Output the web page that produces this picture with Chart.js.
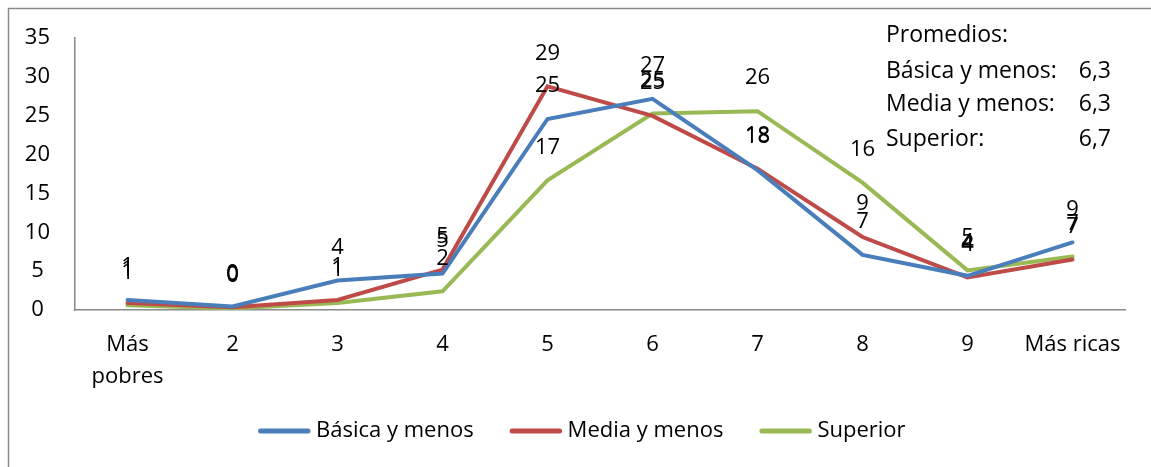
<!DOCTYPE html>
<html><head><meta charset="utf-8">
<script src="https://cdn.jsdelivr.net/npm/chart.js@4.4.1/dist/chart.umd.min.js"></script>
<style>html,body{margin:0;padding:0;background:#fff;overflow:hidden}#wrap{width:1151px;height:467px;position:relative}</style>
</head><body><div id="wrap"><canvas id="c" width="1151" height="467"></canvas></div>
<script>
const categories = [["Más","pobres"],"2","3","4","5","6","7","8","9","Más ricas"];
const basica   = [1.3, 0.45, 3.8, 4.7, 24.6, 27.2, 18.0, 7.1, 4.4, 8.7];
const media    = [0.9, 0.35, 1.3, 5.2, 28.8, 25.0, 18.2, 9.4, 4.2, 6.5];
const superior = [0.6, 0.2, 0.9, 2.4, 16.7, 25.3, 25.6, 16.4, 5.1, 6.9];
const seriesNames = ["Básica y menos","Media y menos","Superior"];
const seriesColors = ["#4A7EBB","#BE4B48","#98B954"];
const yTickValues = [0,5,10,15,20,25,30,35];
const promedioNames = ["Básica y menos:","Media y menos:","Superior:"];
const promedioValues = ["6,3","6,3","6,7"];

const FONT = '"Open Sans", "DejaVu Sans", sans-serif';

const framePlugin = {
  id: 'frame',
  beforeDraw(chart) {
    const ctx = chart.ctx;
    ctx.save();
    ctx.fillStyle = '#fff';
    ctx.fillRect(0, 0, chart.width, chart.height);
    ctx.strokeStyle = '#8a8a8a';
    ctx.lineWidth = 1.5;
    ctx.beginPath();
    ctx.moveTo(8.5, chart.height + 5);
    ctx.lineTo(8.5, 8.5);
    ctx.lineTo(chart.width + 5, 8.5);
    ctx.stroke();
    ctx.restore();
  }
};

const labelPlugin = {
  id: 'dlabels',
  afterDatasetsDraw(chart) {
    const ctx = chart.ctx;
    ctx.save();
    ctx.font = '22px ' + FONT;
    ctx.fillStyle = '#000';
    ctx.textAlign = 'center';
    ctx.textBaseline = 'middle';
    chart.data.datasets.forEach((ds, di) => {
      const meta = chart.getDatasetMeta(di);
      meta.data.forEach((pt, i) => {
        ctx.fillText(String(Math.round(ds.data[i])), pt.x, pt.y - 33);
      });
    });
    ctx.restore();
  }
};

const legendPlugin = {
  id: 'customLegend',
  afterDraw(chart) {
    const ctx = chart.ctx;
    ctx.save();
    ctx.font = '22px ' + FONT;
    ctx.textBaseline = 'middle';
    ctx.textAlign = 'left';
    const y = 431;
    let x = 258;
    chart.data.datasets.forEach((ds) => {
      ctx.strokeStyle = ds.borderColor;
      ctx.lineWidth = 5;
      ctx.lineCap = 'round';
      ctx.beginPath();
      ctx.moveTo(x + 2.5, y);
      ctx.lineTo(x + 50, y);
      ctx.stroke();
      ctx.fillStyle = '#000';
      ctx.fillText(ds.label, x + 58, y);
      x += 58 + ctx.measureText(ds.label).width + 36;
    });
    ctx.restore();
  }
};

const promPlugin = {
  id: 'promedios',
  afterDraw(chart) {
    const ctx = chart.ctx;
    ctx.save();
    ctx.font = '23px ' + FONT;
    ctx.fillStyle = '#000';
    ctx.textBaseline = 'middle';
    ctx.textAlign = 'left';
    const x0 = 886, xr = 1111;
    const ys = [35, 71, 104, 139];
    ctx.fillText('Promedios:', x0, ys[0]);
    promedioNames.forEach((n, i) => {
      ctx.textAlign = 'left';
      ctx.fillText(n, x0, ys[i + 1]);
      ctx.textAlign = 'right';
      ctx.fillText(promedioValues[i], xr, ys[i + 1]);
    });
    ctx.restore();
  }
};

const mk = (name, data, color) => ({
  label: name, data, borderColor: color, backgroundColor: color,
  borderWidth: 4, pointRadius: 0, pointHoverRadius: 0, tension: 0,
  borderCapStyle: 'round', fill: false
});

new Chart(document.getElementById('c'), {
  type: 'line',
  data: {
    labels: categories,
    datasets: [
      mk(seriesNames[0], basica, seriesColors[0]),
      mk(seriesNames[1], media, seriesColors[1]),
      mk(seriesNames[2], superior, seriesColors[2])
    ]
  },
  options: {
    responsive: false,
    animation: false,
    devicePixelRatio: 1,
    layout: { padding: { left: 8, top: 35, right: 26, bottom: 77 } },
    plugins: { legend: { display: false }, tooltip: { enabled: false } },
    scales: {
      x: {
        offset: true,
        grid: { display: false, drawTicks: false },
        border: { display: true, color: '#8a8a8a', width: 1.5 },
        ticks: { color: '#000', font: { family: FONT, size: 22, lineHeight: 1.45 }, padding: 19, maxRotation: 0, autoSkip: false },
        afterFit(s) { s.height = 80; }
      },
      y: {
        min: 0, max: 35,
        grid: { display: false, drawTicks: false },
        border: { display: true, color: '#8a8a8a', width: 1.5 },
        afterBuildTicks(s) { s.ticks = yTickValues.map(v => ({ value: v })); },
        ticks: { color: '#000', font: { family: FONT, size: 22 }, padding: 25, crossAlign: 'center' },
        afterFit(s) { s.width = 67; }
      }
    }
  },
  plugins: [framePlugin, labelPlugin, legendPlugin, promPlugin]
});
</script>
</body></html>
